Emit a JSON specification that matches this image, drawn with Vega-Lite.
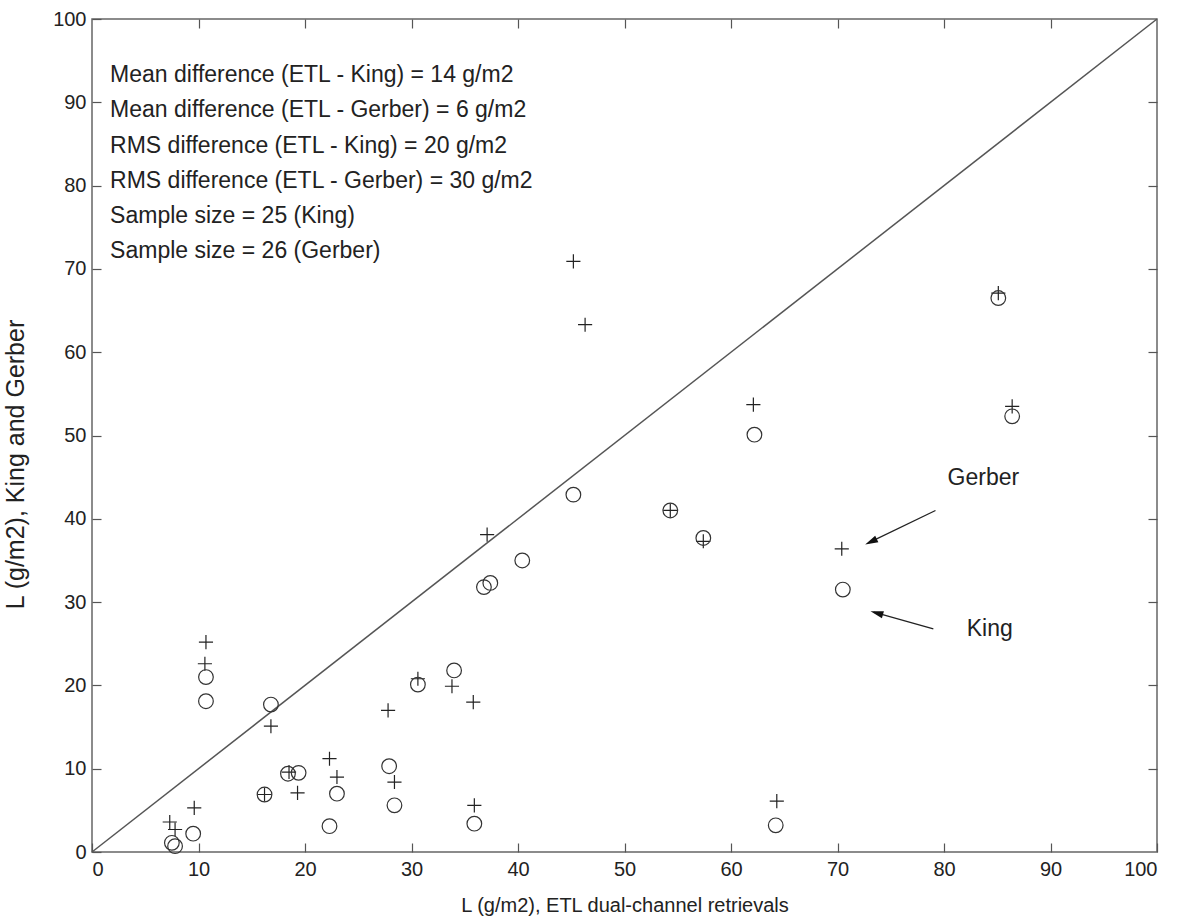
{
  "$schema": "https://vega.github.io/schema/vega-lite/v6.json",
  "autosize": "none",
  "width": 1065,
  "height": 833,
  "padding": {"left": 92, "top": 19, "right": 25, "bottom": 70},
  "background": "white",
  "config": {
    "view": {"stroke": "#666", "strokeWidth": 1.5},
    "font": "Liberation Sans",
    "axis": {
      "domain": false,
      "grid": false,
      "tickColor": "#555",
      "tickWidth": 1.2,
      "tickSize": -9,
      "labelFont": "Liberation Sans",
      "labelFontSize": 20,
      "labelColor": "#222",
      "titleFont": "Liberation Sans",
      "titleFontSize": 20,
      "titleFontWeight": "normal",
      "titleColor": "#222"
    }
  },
  "datasets": {
    "gerber": [
      {"etl": 10.7, "val": 25.2}, {"etl": 10.6, "val": 22.6}, {"etl": 16.8, "val": 15.1},
      {"etl": 18.5, "val": 9.6}, {"etl": 16.2, "val": 6.9}, {"etl": 19.3, "val": 7.1},
      {"etl": 9.6, "val": 5.3}, {"etl": 7.3, "val": 3.6}, {"etl": 7.8, "val": 2.7},
      {"etl": 22.3, "val": 11.2}, {"etl": 23.0, "val": 9.0}, {"etl": 27.8, "val": 17.0},
      {"etl": 30.6, "val": 20.8}, {"etl": 33.8, "val": 19.9}, {"etl": 35.8, "val": 18.0},
      {"etl": 28.4, "val": 8.4}, {"etl": 35.9, "val": 5.6}, {"etl": 45.2, "val": 70.9},
      {"etl": 46.3, "val": 63.3}, {"etl": 62.1, "val": 53.7}, {"etl": 54.3, "val": 41.0},
      {"etl": 57.4, "val": 37.3}, {"etl": 37.1, "val": 38.1}, {"etl": 64.3, "val": 6.1},
      {"etl": 85.1, "val": 67.1}, {"etl": 86.4, "val": 53.5}, {"etl": 70.4, "val": 36.4}
    ],
    "king": [
      {"etl": 10.7, "val": 21.0}, {"etl": 10.7, "val": 18.1}, {"etl": 16.8, "val": 17.7},
      {"etl": 18.4, "val": 9.4}, {"etl": 19.4, "val": 9.5}, {"etl": 16.2, "val": 6.9},
      {"etl": 9.5, "val": 2.2}, {"etl": 7.5, "val": 1.1}, {"etl": 7.8, "val": 0.7},
      {"etl": 23.0, "val": 7.0}, {"etl": 22.3, "val": 3.1}, {"etl": 30.6, "val": 20.1},
      {"etl": 34.0, "val": 21.8}, {"etl": 27.9, "val": 10.3}, {"etl": 28.4, "val": 5.6},
      {"etl": 35.9, "val": 3.4}, {"etl": 62.2, "val": 50.1}, {"etl": 45.2, "val": 42.9},
      {"etl": 54.3, "val": 41.0}, {"etl": 57.4, "val": 37.7}, {"etl": 40.4, "val": 35.0},
      {"etl": 36.8, "val": 31.8}, {"etl": 37.4, "val": 32.3}, {"etl": 64.2, "val": 3.2},
      {"etl": 85.1, "val": 66.5}, {"etl": 86.4, "val": 52.3}, {"etl": 70.5, "val": 31.5}
    ],
    "diag": [{"etl": 0, "val": 0}, {"etl": 100, "val": 100}],
    "notes": [
      {"etl": 1.7, "val": 93.3, "text": "Mean difference (ETL - King) = 14 g/m2"},
      {"etl": 1.7, "val": 89.1, "text": "Mean difference (ETL - Gerber) = 6 g/m2"},
      {"etl": 1.7, "val": 84.8, "text": "RMS difference (ETL - King) = 20 g/m2"},
      {"etl": 1.7, "val": 80.6, "text": "RMS difference (ETL - Gerber) = 30 g/m2"},
      {"etl": 1.7, "val": 76.4, "text": "Sample size = 25 (King)"},
      {"etl": 1.7, "val": 72.2, "text": "Sample size = 26 (Gerber)"}
    ],
    "labels": [
      {"etl": 83.7, "val": 44.9, "text": "Gerber"},
      {"etl": 84.3, "val": 26.8, "text": "King"}
    ],
    "arrows": [
      {"name": "Gerber", "etl": 79.2, "val": 41.0, "etl2": 72.9, "val2": 37.1},
      {"name": "King", "etl": 79.0, "val": 26.8, "etl2": 73.4, "val2": 28.8}
    ],
    "heads": [
      {"name": "Gerber", "etl": 72.6, "val": 36.9},
      {"name": "King", "etl": 73.1, "val": 28.9}
    ]
  },
  "resolve": {"axis": {"x": "independent", "y": "independent"}},
  "layer": [
    {
      "data": {"name": "diag"},
      "mark": {"type": "line", "color": "#555", "strokeWidth": 1.5},
      "encoding": {
        "x": {"field": "etl", "type": "quantitative", "scale": {"domain": [0, 100], "nice": false},
              "axis": {"orient": "top", "labels": false, "title": null, "values": [10,20,30,40,50,60,70,80,90]}},
        "y": {"field": "val", "type": "quantitative", "scale": {"domain": [0, 100], "nice": false},
              "axis": {"orient": "right", "labels": false, "title": null, "values": [10,20,30,40,50,60,70,80,90]}}
      }
    },
    {
      "data": {"name": "gerber"},
      "mark": {"type": "point", "shape": "M-1,0L1,0M0,-1L0,1", "filled": false, "color": "#222", "strokeWidth": 1.2, "size": 200, "opacity": 1},
      "encoding": {
        "x": {"field": "etl", "type": "quantitative", "scale": {"domain": [0, 100], "nice": false},
              "axis": {"orient": "bottom", "title": "L (g/m2), ETL dual-channel retrievals", "values": [0,10,20,30,40,50,60,70,80,90,100], "labelPadding": 16, "titlePadding": 16, "titleFontSize": 20}},
        "y": {"field": "val", "type": "quantitative", "scale": {"domain": [0, 100], "nice": false},
              "axis": {"orient": "left", "title": "L (g/m2), King and Gerber", "values": [0,10,20,30,40,50,60,70,80,90,100], "labelPadding": 15, "titleFontSize": 25, "titleX": -77, "titleY": 445, "titleAngle": 270, "titleAlign": "center", "titleBaseline": "middle"}}
      }
    },
    {
      "data": {"name": "king"},
      "mark": {"type": "point", "shape": "circle", "filled": false, "color": "#333", "strokeWidth": 1.2, "size": 215, "opacity": 1},
      "encoding": {
        "x": {"field": "etl", "type": "quantitative", "axis": null},
        "y": {"field": "val", "type": "quantitative", "axis": null}
      }
    },
    {
      "data": {"name": "notes"},
      "mark": {"type": "text", "align": "left", "baseline": "middle", "fontSize": 23, "color": "#222", "font": "Liberation Sans"},
      "encoding": {
        "x": {"field": "etl", "type": "quantitative", "axis": null},
        "y": {"field": "val", "type": "quantitative", "axis": null},
        "text": {"field": "text"}
      }
    },
    {
      "data": {"name": "labels"},
      "mark": {"type": "text", "align": "center", "baseline": "middle", "fontSize": 23, "color": "#222", "font": "Liberation Sans"},
      "encoding": {
        "x": {"field": "etl", "type": "quantitative", "axis": null},
        "y": {"field": "val", "type": "quantitative", "axis": null},
        "text": {"field": "text"}
      }
    },
    {
      "data": {"name": "arrows"},
      "mark": {"type": "rule", "color": "#222", "strokeWidth": 1.3},
      "encoding": {
        "x": {"field": "etl", "type": "quantitative", "axis": null},
        "y": {"field": "val", "type": "quantitative", "axis": null},
        "x2": {"field": "etl2"},
        "y2": {"field": "val2"}
      }
    },
    {
      "data": {"name": "heads"},
      "transform": [{"filter": "datum.name === 'Gerber'"}],
      "mark": {"type": "point", "shape": "M0,0L0.45,1.6L-0.45,1.6Z", "filled": true, "color": "#111", "size": 260, "opacity": 1, "angle": 244},
      "encoding": {
        "x": {"field": "etl", "type": "quantitative", "axis": null},
        "y": {"field": "val", "type": "quantitative", "axis": null}
      }
    },
    {
      "data": {"name": "heads"},
      "transform": [{"filter": "datum.name === 'King'"}],
      "mark": {"type": "point", "shape": "M0,0L0.45,1.6L-0.45,1.6Z", "filled": true, "color": "#111", "size": 260, "opacity": 1, "angle": 286},
      "encoding": {
        "x": {"field": "etl", "type": "quantitative", "axis": null},
        "y": {"field": "val", "type": "quantitative", "axis": null}
      }
    }
  ]
}
